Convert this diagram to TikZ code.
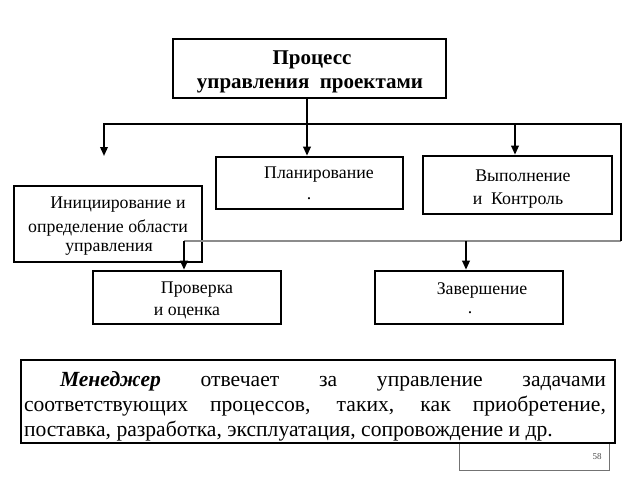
\documentclass[tikz,border=0pt]{standalone}
\usepackage{fontspec}
\setmainfont{Liberation Serif}
\usetikzlibrary{arrows.meta}
\begin{document}
\begin{tikzpicture}[x=1pt,y=-1pt,
  box/.style={draw=black,line width=2.6pt,inner sep=0pt},
  lbl/.style={inner sep=0pt,anchor=center,font=\fontsize{17.8}{20}\selectfont},
  title/.style={inner sep=0pt,anchor=center,font=\fontsize{21}{23}\selectfont\bfseries},
  conn/.style={draw=black,line width=1.8pt},
  arr/.style={conn,line join=miter,-{Triangle[length=9pt,width=7.5pt]}},
  gconn/.style={draw=black!45,line width=1.6pt},
  pagebox/.style={draw=black!55,line width=0.9pt}]
\useasboundingbox (0,0) rectangle (640,480);
% page-number box
\draw[pagebox] (459,440) rectangle (609,470);
\node[inner sep=0pt,text=black!70,font=\fontsize{9}{10}\selectfont] (pnum) at (597,457) {58};
% boxes
\node[box,minimum width=273pt,minimum height=59pt] (top) at (309.5,68.5) {};
\node[box,minimum width=187pt,minimum height=52pt] (plan) at (309.5,183) {};
\node[box,minimum width=189pt,minimum height=58pt] (vyp) at (517.5,185) {};
\node[box,minimum width=188pt,minimum height=76pt] (init) at (108,224) {};
\node[box,minimum width=188pt,minimum height=53pt] (prov) at (187,297.5) {};
\node[box,minimum width=188pt,minimum height=53pt] (zav) at (469,297.5) {};
\node[box,fill=white,minimum width=594pt,minimum height=83pt] (note) at (318,401.5) {};
% texts
\node[title] (t1) at (312,60) {Процесс};
\node[title] (t2) at (310,86) {управления\ \ проектами};
\node[lbl] (p1) at (319,175) {Планирование};
\node[lbl] (p2) at (309,199) {.};
\node[lbl] (v1) at (523,176) {Выполнение};
\node[lbl] (v2) at (518,201) {и\ \ Контроль};
\node[lbl] (i1) at (118,205) {Инициирование и};
\node[lbl] (i2) at (108,228) {определение области};
\node[lbl] (i3) at (109,249) {управления};
\node[lbl] (r1) at (197,290) {Проверка};
\node[lbl] (r2) at (187,313) {и оценка};
\node[lbl] (z1) at (482,290) {Завершение};
\node[lbl] (z2) at (470,313) {.};
\node[inner sep=0pt,text width=582pt,align=justify,font=\fontsize{21.6}{25}\selectfont] (ntext) at (315,406) {%
\hspace*{36pt}\textbf{\textit{Менеджер}} отвечает за управление задачами\linebreak
соответствующих процессов, таких, как приобретение,\linebreak
поставка, разработка, эксплуатация, сопровождение и др.};
% connectors
\coordinate (jm) at (307,124);
\coordinate (hl) at (104,124);
\coordinate (hr) at (621,124);
\coordinate (lend) at (104,156);
\coordinate (jv) at (515,124);
\coordinate (br) at (621,241);
\coordinate (bl) at (184,241);
\coordinate (bz) at (466,241);
\draw[conn] (top.south -| jm) -- (jm);
\draw[arr] (jm) -- (plan.north -| jm);
\draw[gconn] (br) -- (bl);
\draw[arr] (br) -- (hr) -- (hl) -- (lend);
\draw[arr] (jv) -- (vyp.north -| jv);
\draw[arr] (bl) -- (prov.north -| bl);
\draw[arr] (bz) -- (zav.north -| bz);
\end{tikzpicture}
\end{document}
